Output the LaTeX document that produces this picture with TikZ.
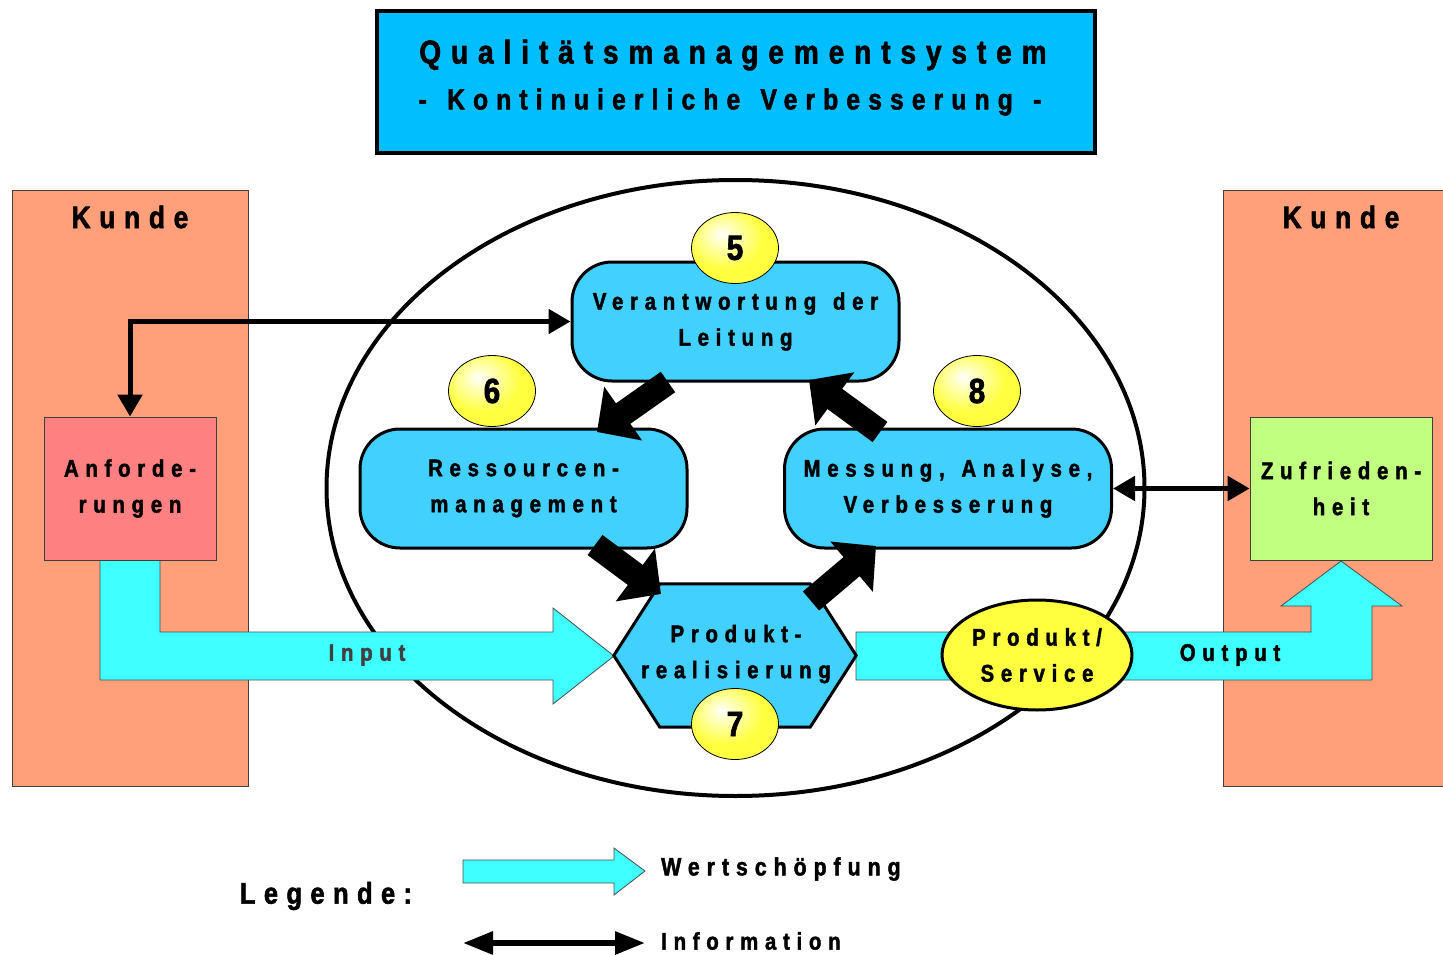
\documentclass[tikz,border=0pt]{standalone}
\usepackage{fontspec}
\setmainfont{Liberation Sans}[FakeStretch=0.85, LetterSpace=28, FakeBold=1.8, WordSpace=1.35]
\usetikzlibrary{arrows.meta,shapes.geometric}
\definecolor{titleblue}{RGB}{0,190,255}
\definecolor{boxblue}{RGB}{66,208,255}
\definecolor{kundecol}{RGB}{255,160,122}
\definecolor{anfcol}{RGB}{255,128,128}
\definecolor{zufcol}{RGB}{192,255,128}
\definecolor{flowcol}{RGB}{64,255,255}
\definecolor{ylw}{RGB}{255,255,64}
\definecolor{inputgray}{RGB}{64,64,64}
\pgfdeclareradialshading{yball}{\pgfpoint{-8bp}{10bp}}{color(0bp)=(white);color(6bp)=(white!70!ylw);color(22bp)=(ylw);color(80bp)=(ylw)}
\begin{document}
\begin{tikzpicture}[x=1pt,y=-1pt,
  txt/.style={font=\bfseries\fontsize{24}{36}\selectfont, align=center, inner sep=0pt},
  boxnode/.style={draw, line width=3pt, fill=boxblue, rounded corners=40pt, minimum width=327pt, minimum height=119pt, inner sep=0pt, txt},
  kundebox/.style={draw=black!75, line width=0.8pt, fill=kundecol, minimum width=236pt, minimum height=596pt, inner sep=0pt},
  ball/.style={ellipse, draw, line width=0.8pt, shading=yball, minimum width=87pt, minimum height=71pt, inner sep=0pt, font=\bfseries\fontsize{35}{35}\selectfont\addfontfeature{LetterSpace=0}},
  info/.style={line width=5pt, {Triangle[length=22pt,width=24pt]}-{Triangle[length=22pt,width=24pt]}},
  fat/.style={line width=25pt, -{Triangle[length=32pt,width=64pt]}},
  flow/.style={fill=flowcol, draw=black!70, line width=0.8pt}
]
\useasboundingbox (0,0) rectangle (1443,955);

% title
\node[draw, line width=4pt, fill=titleblue, minimum width=718pt, minimum height=142pt, inner sep=0pt] (title) at (736,82) {};
\node[inner sep=0pt, font=\bfseries\fontsize{33}{33}\selectfont\addfontfeature{LetterSpace=30}] (t1) at (733,55) {Qualitätsmanagementsystem};
\node[inner sep=0pt, font=\bfseries\fontsize{29}{29}\selectfont\addfontfeature{LetterSpace=28}] (t2) at (730,102) {- Kontinuierliche Verbesserung -};

% customer boxes
\node[kundebox] (kl) at (130,488) {};
\node[kundebox, minimum width=226pt] (kr) at (1336,488) {};
\node[inner sep=0pt, font=\bfseries\fontsize{31}{31}\selectfont] (kltxt) at (130,217) {Kunde};
\node[inner sep=0pt, font=\bfseries\fontsize{31}{31}\selectfont] (krtxt) at (1341,217) {Kunde};

% big cycle
\node[ellipse, draw, line width=4pt, minimum width=818pt, minimum height=616pt, inner sep=0pt] (cyc) at (735.5,488) {};

% flow arrows
\draw[flow] (100,560) -- (160,560) -- (160,632) -- (553,632) -- (553,608) -- (614,656) -- (553,704) -- (553,680) -- (100,680) -- cycle;
\node[txt, text=inputgray] (intxt) at (367,655) {Input};
\draw[flow] (856,632) -- (1311,632) -- (1311,606) -- (1281,606) -- (1341,561) -- (1402,606) -- (1372,606) -- (1372,680) -- (856,680) -- cycle;
\node[txt] (outtxt) at (1230,655) {Output};

% requirement / satisfaction
\node[draw=black!75, line width=0.8pt, fill=anfcol, minimum width=172pt, minimum height=143pt, txt] (anf) at (130,488.5) {Anforde-\\rungen};
\node[draw=black!75, line width=0.8pt, fill=zufcol, minimum width=182pt, minimum height=143pt, txt] (zuf) at (1341,488.5) {Zufrieden-\\heit};

% process boxes
\node[boxnode] (n5) at (735.5,321.5) {Verantwortung der\\Leitung};
\node[boxnode] (n6) at (523.5,488.5) {Ressourcen-\\management};
\node[boxnode] (n8) at (948,488.5) {Messung, Analyse,\\Verbesserung};

% hexagon
\node[minimum width=242pt, minimum height=143pt, inner sep=0pt] (n7) at (735,655.5) {};
\draw[line width=3pt, fill=boxblue] (n7.west) -- ([xshift=46pt]n7.north west) -- ([xshift=-46pt]n7.north east) -- (n7.east) -- ([xshift=-46pt]n7.south east) -- ([xshift=46pt]n7.south west) -- cycle;
\node[txt] (n7txt) at (736,654) {Produkt-\\realisierung};

% product / service
\node[ellipse, draw, line width=3pt, fill=ylw, minimum width=190pt, minimum height=110pt, inner sep=0pt, txt] (ps) at (1037,655) {Produkt/\\Service};

% information arrows
\draw[info] (anf.north) |- (n5.west);
\draw[info] (n8.east) -- (zuf.west);

% fat process arrows
\coordinate (a1s) at (668,382);
\coordinate (a1e) at (597,432);
\coordinate (a2s) at (880,432);
\coordinate (a2e) at (809,380);
\coordinate (a3s) at (595,545);
\coordinate (a3e) at (661,594);
\coordinate (a4s) at (811,601);
\coordinate (a4e) at (876,546);
\draw[fat] (a1s) -- (a1e);
\draw[fat] (a2s) -- (a2e);
\draw[fat] (a3s) -- (a3e);
\draw[fat] (a4s) -- (a4e);

% number balls
\node[ball] (b5) at (735,248) {5};
\node[ball] (b6) at (492,391) {6};
\node[ball] (b8) at (977,391) {8};
\node[ball] (b7) at (735,724) {7};

% legend
\node[inner sep=0pt, font=\bfseries\fontsize{30}{30}\selectfont] (leg) at (326,896) {Legende:};
\draw[flow] (463,860) -- (614,860) -- (614,848) -- (645,871) -- (614,895) -- (614,883) -- (463,883) -- cycle;
\node[txt, anchor=west, font=\bfseries\fontsize{25}{36}\selectfont] (lw) at (661,869) {Wertschöpfung};
\coordinate (li1) at (463,943);
\coordinate (li2) at (645,943);
\draw[line width=6pt, {Triangle[length=30pt,width=22pt]}-{Triangle[length=30pt,width=22pt]}] (li1) -- (li2);
\node[txt, anchor=west] (li) at (661,941) {Information};
\end{tikzpicture}
\end{document}
